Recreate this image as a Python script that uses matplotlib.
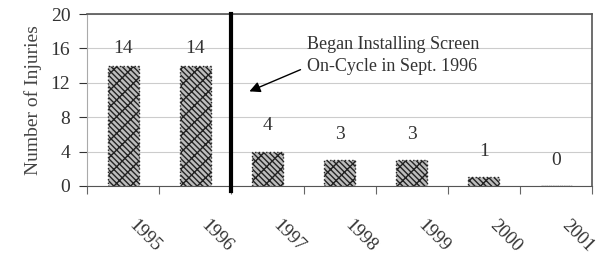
import numpy as np
import matplotlib.pyplot as plt

years = ["1995", "1996", "1997", "1998", "1999", "2000", "2001"]
injuries = [14, 14, 4, 3, 3, 1, 0]
yticks = [0, 4, 8, 12, 16, 20]
note = "Began Installing Screen\nOn-Cycle in Sept. 1996"

plt.rcParams['font.family'] = ['Liberation Serif', 'DejaVu Serif']
plt.rcParams['hatch.linewidth'] = 1.0
plt.rcParams['hatch.color'] = '#333333'

fig = plt.figure(figsize=(6, 2.6), dpi=100)
ax = fig.add_axes([0.145, 0.285, 0.842, 0.661])

x = np.arange(len(years))
bars = ax.bar(x, injuries, width=0.43, facecolor='#bdbdbd', edgecolor='#222222',
              hatch='\\\\\\\\xx', linewidth=1.0, linestyle=':', zorder=3)

# value labels; the tall ones sit closer to the bar
for xi, v in zip(x, injuries):
    off = 1.0 if v > 10 else 2.0
    ax.text(xi, v + off, str(v), ha='center', va='bottom', fontsize=14, color='#333333')

ax.set_xlim(-0.5, len(years) - 0.5)
ax.set_ylim(0, 20)
ax.set_yticks(yticks)
ax.tick_params(axis='y', labelsize=14, length=6, colors='#333333', pad=6)
ax.yaxis.grid(True, color='#cccccc', linewidth=0.8, zorder=0)
ax.set_ylabel("Number of Injuries", fontsize=14, color='#444444', labelpad=6)

# tick marks on category boundaries, labels rotated under the centres
ax.set_xticks(np.arange(-0.5, len(years)), minor=False)
ax.set_xticklabels([])
ax.set_xticks(x + 0.2, minor=True)
ax.set_xticklabels(years, minor=True, rotation=-45, ha='left', va='top',
                   rotation_mode='anchor', fontsize=13.5, color='#333333')
ax.tick_params(axis='x', which='major', length=6, color='#666666')
ax.tick_params(axis='x', which='minor', length=0, pad=22)

for s in ['top', 'right']:
    ax.spines[s].set_color('#555555')
    ax.spines[s].set_linewidth(1.2)
ax.spines['left'].set_color('#aaaaaa')
ax.spines['bottom'].set_color('#555555')

ax.plot([1.5, 1.5], [-0.6, 20], color='black', linewidth=3, clip_on=False, zorder=4)

ax.annotate(note, xy=(1.75, 11.0), xytext=(2.55, 15.2), fontsize=13, color='#333333',
            ha='left', va='center', linespacing=1.35,
            arrowprops=dict(arrowstyle='-|>', color='black', lw=1.0, mutation_scale=16,
                            shrinkA=3, shrinkB=0, relpos=(0, 0.2)))

fig.savefig("out.png", dpi=100)
